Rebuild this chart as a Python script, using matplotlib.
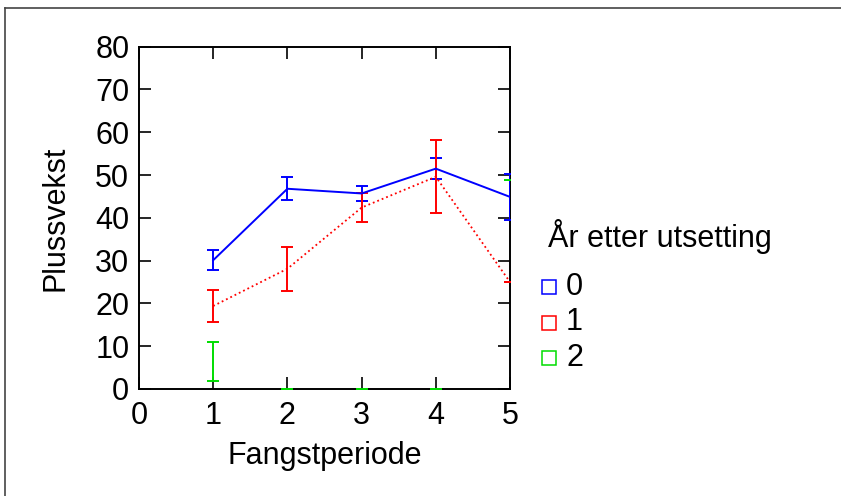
import matplotlib
matplotlib.use("Agg")
import matplotlib.pyplot as plt
from matplotlib.lines import Line2D
import numpy as np

plt.rcParams['font.family'] = ['Liberation Sans', 'DejaVu Sans']
plt.rcParams['font.size'] = 22

periode = [1, 2, 3, 4, 5]
groups = ['0', '1', '2']

mean0 = [30.1, 46.8, 45.7, 51.5, 44.9]
err0 = [2.3, 2.7, 1.7, 2.5, 5.3]
mean1 = [19.4, 28.1, 42.4, 49.6, 25.0]
err1 = [3.75, 5.1, 3.3, 8.5, 0.0]
mean2 = [6.4, 0.0, 0.0, 0.0, 48.9]
err2 = [4.5, 0.0, 0.0, 0.0, 0.0]

blue = '#0000ff'
red = '#ff0000'
green = '#00dd00'
colors = [blue, red, green]

W, H = 841, 496
fig = plt.figure(figsize=(W / 100, H / 100), dpi=100)
ax = fig.add_axes([139 / W, 1 - 389 / H, (510 - 139) / W, (389 - 46.7) / H])

# errorbars drawn above the spines, like the original
ax.errorbar(periode, mean0, yerr=err0, color=blue, lw=1.4, ls='-',
            capsize=4, elinewidth=1.4, capthick=1.4, zorder=3)
ax.errorbar(periode, mean1, yerr=err1, color=red, lw=1.3, ls=':',
            capsize=4.5, elinewidth=1.4, capthick=1.4, zorder=3)
ax.errorbar(periode, mean2, yerr=err2, color=green, ls='none',
            capsize=4, elinewidth=1.4, capthick=1.4, zorder=3)

ax.set_xlim(0, 5)
ax.set_ylim(0, 80)
ax.set_xticks(range(0, 6))
ax.set_yticks(range(0, 81, 10))
ax.tick_params(direction='in', length=8.5, width=1.2, top=True, right=True,
               labelsize=22)
ax.tick_params(axis='x', pad=9)
ax.tick_params(axis='y', pad=7)
for s in ax.spines.values():
    s.set_linewidth(1.4)

ax.set_xlabel('Fangstperiode', fontsize=22, labelpad=7)
ax.set_ylabel('Plussvekst', fontsize=22, labelpad=18)

# legend drawn by hand to match spacing
fig.text(548 / W, 1 - 236 / H, 'År etter utsetting', fontsize=22,
         ha='left', va='center')
for i, (g, c) in enumerate(zip(groups, colors)):
    yy = 1 - (287 + 35.5 * i) / H
    fig.add_artist(Line2D([548.5 / W], [yy], ls='none', marker='s', markersize=10.5,
                          markerfacecolor='none', markeredgecolor=c,
                          markeredgewidth=1.1, transform=fig.transFigure))
    fig.text(566 / W, yy, g, fontsize=22, ha='left', va='center')

# outer frame (top and left edges)
fig.add_artist(Line2D([0.006, 0.006], [0.0, 0.984], color='#444444', lw=1.2,
                      transform=fig.transFigure))
fig.add_artist(Line2D([0.006, 1.0], [0.984, 0.984], color='#444444', lw=1.2,
                      transform=fig.transFigure))

fig.savefig('out.png', dpi=100)
